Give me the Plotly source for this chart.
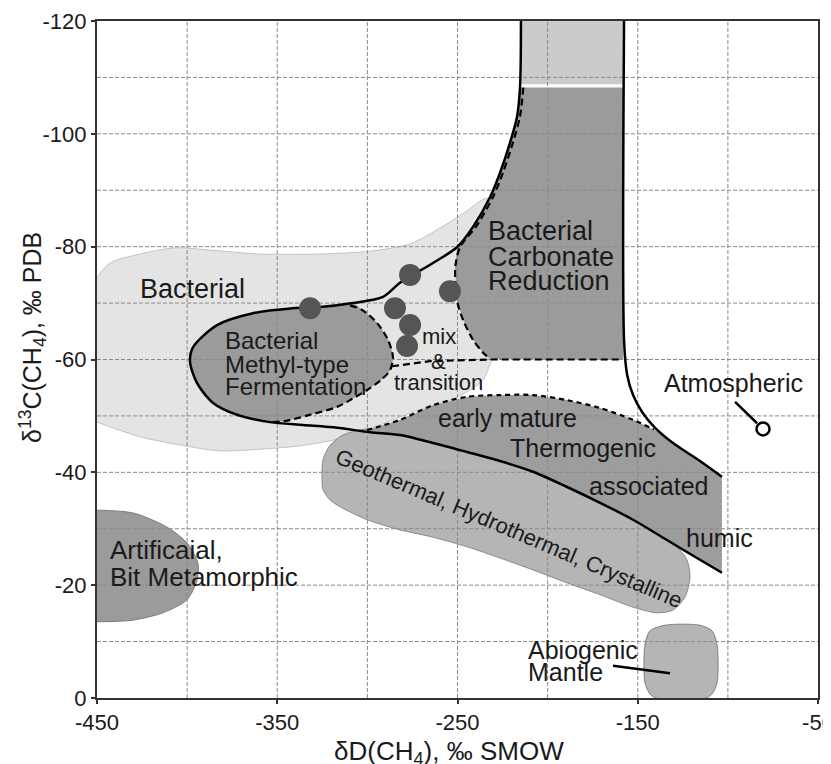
import plotly.graph_objects as go

# ---------------- data (delta D, delta 13C) ----------------
# light grey "Bacterial" field
bact_x = [-450, -442.8, -426.1, -406.7, -387.3, -359.6, -326.3, -298.5, -276.3, -259.7, -245.8, -233.5, -229.0,
          -227.0, -229.0, -231.5, -235.8, -243.1, -254.2, -276.3, -300.2, -319.1, -337.4, -350.7, -381.8, -401.2, -426.1, -450]
bact_y = [-74.6, -77.1, -78.7, -79.8, -79.4, -78.7, -78.7, -79.2, -80.5, -83.3, -86.1, -88.6, -86.0,
          -72.0, -62.5, -59.6, -56.4, -54.6, -52.8, -50.5, -47.5, -45.7, -44.7, -44.3, -43.8, -44.7, -46.3, -48.9]

# upper light rectangle (carbonate reduction, extended)
top_x = [-214.2, -158.2, -158.2, -214.2]
top_y = [-120, -120, -108.8, -108.8]

# Bacterial carbonate reduction field
carb_x = [-215.3, -158.0, -158.0, -231.9, -235.8, -241.4, -246.9, -250.3, -251.4, -250.3, -241.4, -231.9, -226.4, -220.9, -217.0, -215.3]
carb_y = [-108.2, -108.2, -59.9, -60.1, -61.2, -63.5, -67.0, -70.5, -76.4, -79.6, -83.5, -88.8, -93.1, -98.4, -103.0, -108.2]

# Bacterial methyl-type fermentation field
ferm_x = [-307.9, -326.3, -341.3, -363.5, -383.4, -396.7, -398.4, -394.5, -385.6, -372.3, -354.0, -345.7,
          -331.8, -316.8, -309.6, -300.2, -293.0, -287.4, -285.8, -288.6, -294.7, -303.0, -307.9]
ferm_y = [-70.0, -69.3, -69.1, -68.2, -66.1, -62.2, -59.6, -55.8, -52.3, -50.2, -48.9, -49.1,
          -50.2, -51.6, -52.8, -54.6, -56.2, -58.1, -60.4, -63.5, -66.5, -68.8, -70.0]

# Geothermal, hydrothermal, crystalline field
geo_x = [-300.2, -313.5, -320.7, -324.6, -325.2, -324.6, -320.7, -315.2, -300.2, -281.9, -263.6, -244.7, -226.4, -208.1,
         -189.2, -170.9, -152.6, -139.3, -130.4, -123.8, -121.0, -122.7, -128.2, -133.8,
         -152.6, -170.9, -189.2, -208.1, -226.4, -244.7, -263.6, -281.9, -300.2]
geo_y = [-47.7, -46.6, -44.8, -42.2, -39.2, -36.9, -35.1, -33.9, -31.6, -29.8, -28.5, -26.8, -24.8, -22.7,
         -20.4, -18.3, -16.1, -15.1, -15.6, -17.9, -21.4, -24.5, -26.8, -28.4,
         -32.0, -35.0, -37.8, -40.5, -42.4, -44.0, -45.6, -47.0, -47.7]

# Thermogenic field
therm_x = [-300.2, -281.9, -263.6, -244.7, -226.4, -208.1, -189.2, -170.9, -152.6, -141.0, -130.4, -115.5, -103.3,
           -103.3, -115.5, -133.8, -152.6, -170.9, -189.2, -208.1, -226.4, -244.7, -263.6, -281.9, -298.5]
therm_y = [-47.5, -49.3, -51.9, -53.4, -53.7, -53.7, -52.8, -51.4, -49.3, -47.6, -45.2, -42.0, -39.2,
           -22.2, -24.5, -28.0, -31.6, -34.6, -37.4, -40.1, -42.0, -43.6, -45.2, -46.6, -47.1]

# Artificial, bit metamorphic field
art_x = [-450, -430.0, -411.2, -400.1, -394.0, -394.5, -400.1, -413.4, -430.0, -450]
art_y = [-33.3, -32.8, -30.3, -27.5, -23.9, -20.9, -17.4, -15.1, -13.8, -13.5]

# Abiogenic mantle field
abio_x = [-134.9, -115.5, -108.8, -106.0, -106.0, -108.8, -112.1, -139.9, -143.2, -146.0, -146.0, -143.2, -134.9]
abio_y = [-12.9, -12.9, -11.9, -9.4, -2.7, -0.7, 0.0, 0.0, -0.7, -2.7, -9.4, -11.9, -12.9]

# boundary curves
c1_x = [-214.8, -215.3, -217.0, -220.9, -226.4, -231.9, -241.4, -250.3, -263.6, -281.9, -291.3, -307.9, -326.3,
        -341.3, -363.5, -383.4, -396.7, -398.4, -394.5, -385.6, -372.3, -354.0, -335.7, -316.8, -298.5, -281.9,
        -263.6, -244.7, -226.4, -208.1, -189.2, -170.9, -152.6, -133.8, -115.5, -103.3]
c1_y = [-120.0, -108.3, -103.0, -98.4, -93.1, -88.8, -83.5, -79.9, -77.1, -73.6, -71.1, -70.0, -69.3,
        -69.1, -68.2, -66.1, -62.2, -59.6, -55.8, -52.3, -50.2, -48.9, -48.4, -47.9, -47.1, -46.6,
        -45.2, -43.6, -42.0, -40.1, -37.4, -34.6, -31.6, -28.0, -24.5, -22.2]
c2_x = [-157.6, -157.6, -155.9, -152.6, -147.6, -140.4, -130.4, -115.5, -103.3]
c2_y = [-120.0, -63.5, -57.3, -53.7, -50.7, -47.9, -45.2, -42.0, -39.2]

# dashed / dotted sub-boundaries
carbd_x = [-213.5, -215.4, -219.3, -224.8, -230.3, -239.8, -248.5, -251.2, -250.3, -246.9, -241.4, -235.8, -231.9]
carbd_y = [-108.2, -103.0, -98.4, -93.1, -88.8, -83.5, -80.0, -76.4, -70.5, -67.0, -63.5, -61.2, -60.1]
mixd_x = [-286.3, -265.3, -231.9, -158.5]
mixd_y = [-58.8, -59.7, -60.0, -60.0]
fermd_x = [-309.6, -303.0, -294.7, -288.6, -285.8, -287.4, -293.0, -300.2, -309.6, -316.8, -331.8, -345.7, -354.0]
fermd_y = [-69.6, -68.8, -66.5, -63.5, -60.4, -58.1, -56.2, -54.6, -52.8, -51.6, -50.2, -49.1, -48.9]
thermd_x = [-300.2, -281.9, -263.6, -244.7, -226.4, -208.1, -189.2, -170.9, -152.6, -141.0]
thermd_y = [-47.5, -49.3, -51.9, -53.4, -53.7, -53.7, -52.8, -51.4, -49.3, -47.6]

# samples
sample_x = [-331.8, -276.3, -254.2, -284.7, -276.3, -278.0]
sample_y = [-69.1, -75.0, -72.1, -69.1, -66.1, -62.4]

# atmospheric methane
atm_x = [-80.5]
atm_y = [-47.7]
atm_line_x = [-96.0, -83.8]
atm_line_y = [-52.5, -48.7]
abio_line_x = [-163.7, -132.1]
abio_line_y = [-5.7, -4.4]

# axes
x_ticks = [-450, -350, -250, -150, -50]
y_ticks = [-120, -100, -80, -60, -40, -20, 0]
x_grid = [-400, -350, -300, -250, -200, -150, -100]
y_grid = [-110, -100, -90, -80, -70, -60, -50, -40, -30, -20, -10]

# labels: (text, x, y, size, xanchor, angle)
labels = [
    ("Bacterial", -427.3, -72.5, 27, "left", 0),
    ("Bacterial", -380.1, -63.4, 24, "left", 0),
    ("Methyl-type", -380.1, -59.2, 24, "left", 0),
    ("Fermentation", -380.1, -55.3, 24, "left", 0),
    ("mix", -260.5, -64.0, 22, "center", 0),
    ("&", -260.5, -59.6, 22, "center", 0),
    ("transition", -260.8, -56.0, 22, "center", 0),
    ("Bacterial", -234.2, -82.8, 27, "left", 0),
    ("Carbonate", -234.2, -78.2, 27, "left", 0),
    ("Reduction", -234.2, -73.9, 27, "left", 0),
    ("early mature", -222.5, -49.6, 25, "center", 0),
    ("Thermogenic", -180.6, -44.3, 25, "center", 0),
    ("associated", -143.7, -37.6, 25, "center", 0),
    ("humic", -104.4, -28.4, 25, "center", 0),
    ("Geothermal, Hydrothermal, Crystalline", -221.4, -30.1, 22, "center", 23),
    ("Artificaial,", -443.9, -26.2, 26, "left", 0),
    ("Bit Metamorphic", -443.9, -21.4, 26, "left", 0),
    ("Atmospheric", -97.1, -55.8, 25, "center", 0),
    ("Abiogenic", -212.0, -8.5, 25, "left", 0),
    ("Mantle", -212.0, -4.6, 25, "left", 0),
]

FONT = "Liberation Sans, Arial, Helvetica, sans-serif"
DARK = "#9b9b9b"
MED = "#b5b5b5"
LIGHT = "#e4e4e4"

fig = go.Figure()


def area(x, y, color, shape="linear", edge=None, ew=0.8):
    fig.add_trace(go.Scatter(
        x=x, y=y, mode="lines", fill="toself", fillcolor=color,
        line=dict(color=edge if edge else color, width=ew if edge else 0, shape=shape, smoothing=0.8),
        hoverinfo="skip", showlegend=False))


area(bact_x, bact_y, LIGHT, "spline", "#b8b8b8", 0.8)
area(top_x, top_y, "#cbcbcb")
area(carb_x, carb_y, DARK)
area(ferm_x, ferm_y, DARK, "spline")
area(geo_x, geo_y, MED, "spline", "#7a7a7a", 0.8)
area(therm_x, therm_y, "#9d9d9d")
area(art_x, art_y, DARK, "spline", "#6a6a6a", 0.8)
area(abio_x, abio_y, MED, "spline", "#6a6a6a", 0.8)

# dashed grid (above the fields, as in the original)
gx, gy = [], []
for v in x_grid:
    gx += [v, v, None]
    gy += [0, -120, None]
for v in y_grid:
    gx += [-450, -50, None]
    gy += [v, v, None]
fig.add_trace(go.Scatter(x=gx, y=gy, mode="lines", line=dict(color="#8a8a8a", width=1, dash="4px,2px"),
                         hoverinfo="skip", showlegend=False))


def curve(x, y, width=2.5, dash=None, shape="spline"):
    fig.add_trace(go.Scatter(x=x, y=y, mode="lines",
                             line=dict(color="black", width=width, dash=dash, shape=shape, smoothing=0.8),
                             hoverinfo="skip", showlegend=False))


curve(c1_x, c1_y)
curve(c2_x, c2_y)
curve(carbd_x, carbd_y, 2.2, "7px,4px")
curve(mixd_x, mixd_y, 2.2, "7px,4px", "linear")
curve(fermd_x, fermd_y, 2.2, "7px,4px")
curve(thermd_x, thermd_y, 2.2, "5px,4px")
curve(abio_line_x, abio_line_y, 2.5, None, "linear")
curve(atm_line_x, atm_line_y, 2.5, None, "linear")

fig.add_trace(go.Scatter(x=sample_x, y=sample_y, mode="markers",
                         marker=dict(size=22, color="#555555", line=dict(width=0)),
                         hoverinfo="skip", showlegend=False))
fig.add_trace(go.Scatter(x=atm_x, y=atm_y, mode="markers",
                         marker=dict(size=13, color="white", line=dict(width=2.5, color="black")),
                         hoverinfo="skip", showlegend=False))

for text, x, y, size, xa, ang in labels:
    fig.add_annotation(x=x, y=y, xref="x", yref="y", text=text, showarrow=False,
                       xanchor=xa, yanchor="middle", textangle=ang,
                       font=dict(family=FONT, size=size, color="#1a1a1a"))

fig.add_annotation(x=0.488, y=-0.08, xref="paper", yref="paper",
                   text="δD(CH<sub>4</sub>), ‰ SMOW", showarrow=False,
                   xanchor="center", yanchor="middle", font=dict(family=FONT, size=26, color="#1a1a1a"))
fig.add_annotation(x=-0.089, y=0.533, xref="paper", yref="paper",
                   text="δ<sup>13</sup>C(CH<sub>4</sub>), ‰ PDB", showarrow=False, textangle=-90,
                   xanchor="center", yanchor="middle", font=dict(family=FONT, size=25, color="#1a1a1a"))

axis_common = dict(showgrid=False, zeroline=False, showline=True, linecolor="#333333", linewidth=2,
                   mirror=True, ticks="outside", ticklen=4, tickwidth=1.5, tickcolor="#333333",
                   ticklabeloverflow="allow", automargin=False,
                   tickfont=dict(family=FONT, size=22, color="#1a1a1a"))
fig.update_xaxes(range=[-450, -50], tickmode="array", tickvals=x_ticks,
                 ticktext=[str(v) for v in x_ticks], **axis_common)
fig.update_yaxes(range=[0, -120], tickmode="array", tickvals=y_ticks,
                 ticktext=[str(v) for v in y_ticks], **axis_common)

# the page keeps its default 8 px body margin, so the plot area is placed 8 px up/left inside the figure
fig.update_layout(width=831, height=764, margin=dict(l=89, r=21, t=13, b=74, autoexpand=False),
                  plot_bgcolor="white", paper_bgcolor="white", showlegend=False,
                  font=dict(family=FONT))

fig.write_html("out.html", config={"displayModeBar": False})
